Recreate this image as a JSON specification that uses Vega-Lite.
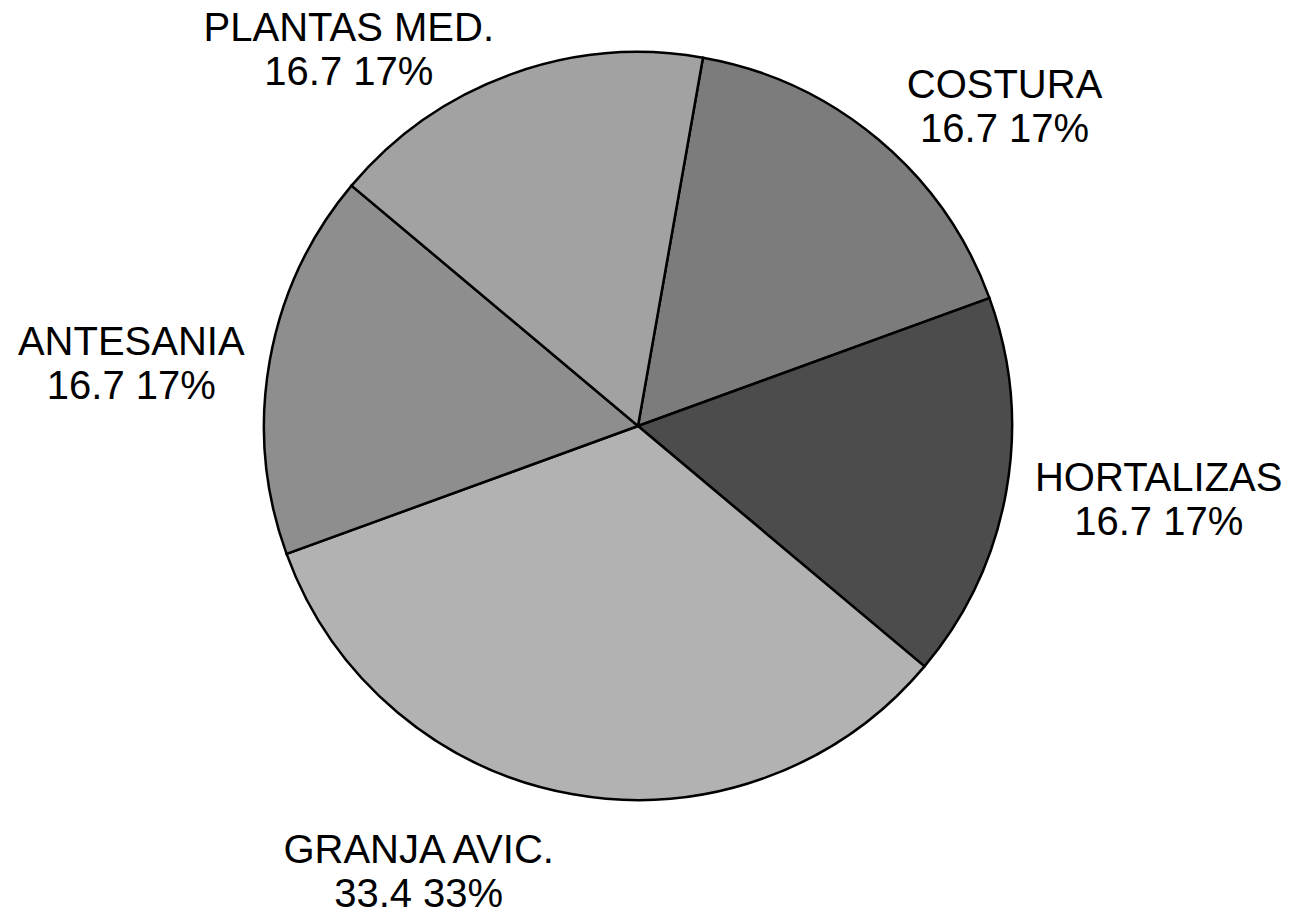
{
  "$schema": "https://vega.github.io/schema/vega-lite/v6.json",
  "autosize": {"type": "none"},
  "width": 1276,
  "height": 852,
  "padding": {"left": 0, "top": 0, "right": 16, "bottom": 60},
  "background": "white",
  "config": {"view": {"stroke": null}},
  "data": {
    "values": [
      {"sector": "COSTURA", "value": 16.7, "pct": "17%", "ord": 1},
      {"sector": "HORTALIZAS", "value": 16.7, "pct": "17%", "ord": 2},
      {"sector": "GRANJA AVIC.", "value": 33.4, "pct": "33%", "ord": 3},
      {"sector": "ANTESANIA", "value": 16.7, "pct": "17%", "ord": 4},
      {"sector": "PLANTAS MED.", "value": 16.7, "pct": "17%", "ord": 5}
    ]
  },
  "transform": [
    {"calculate": "[datum.sector, format(datum.value, '.1f') + ' ' + datum.pct]", "as": "label"}
  ],
  "encoding": {
    "theta": {"field": "value", "type": "quantitative", "stack": true, "scale": {"range": [0.17453, 6.45772]}},
    "order": {"field": "ord", "type": "quantitative"}
  },
  "layer": [
    {
      "mark": {"type": "arc", "outerRadius": 374, "stroke": "black", "strokeWidth": 2.5},
      "encoding": {
        "color": {
          "field": "sector", "type": "nominal", "legend": null,
          "scale": {
            "domain": ["COSTURA", "HORTALIZAS", "GRANJA AVIC.", "ANTESANIA", "PLANTAS MED."],
            "range": ["#7c7c7c", "#4c4c4c", "#b2b2b2", "#8e8e8e", "#a2a2a2"]
          }
        }
      }
    },
    {
      "mark": {"type": "text", "radius": 480, "dx": 58, "dy": 28, "font": "Liberation Sans", "fontSize": 40, "lineHeight": 44, "align": "center", "baseline": "middle", "color": "black"},
      "encoding": {"text": {"condition": {"test": "datum.sector == 'COSTURA'", "field": "label"}, "value": ""}}
    },
    {
      "mark": {"type": "text", "radius": 480, "dx": 48, "dy": -30, "font": "Liberation Sans", "fontSize": 40, "lineHeight": 44, "align": "center", "baseline": "middle", "color": "black"},
      "encoding": {"text": {"condition": {"test": "datum.sector == 'HORTALIZAS'", "field": "label"}, "value": ""}}
    },
    {
      "mark": {"type": "text", "radius": 480, "dx": -136, "dy": -48, "font": "Liberation Sans", "fontSize": 40, "lineHeight": 44, "align": "center", "baseline": "middle", "color": "black"},
      "encoding": {"text": {"condition": {"test": "datum.sector == 'GRANJA AVIC.'", "field": "label"}, "value": ""}}
    },
    {
      "mark": {"type": "text", "radius": 480, "dx": -34, "dy": 0, "font": "Liberation Sans", "fontSize": 40, "lineHeight": 44, "align": "center", "baseline": "middle", "color": "black"},
      "encoding": {"text": {"condition": {"test": "datum.sector == 'ANTESANIA'", "field": "label"}, "value": ""}}
    },
    {
      "mark": {"type": "text", "radius": 480, "dx": -125, "dy": 54, "font": "Liberation Sans", "fontSize": 40, "lineHeight": 44, "align": "center", "baseline": "middle", "color": "black"},
      "encoding": {"text": {"condition": {"test": "datum.sector == 'PLANTAS MED.'", "field": "label"}, "value": ""}}
    }
  ]
}
